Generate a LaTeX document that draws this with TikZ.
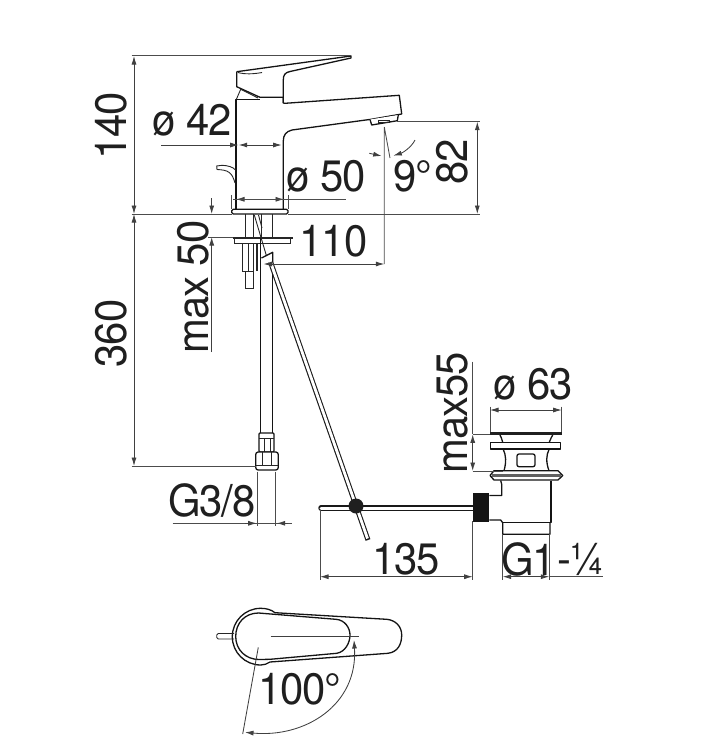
\documentclass[tikz,border=0pt]{standalone}
\usepackage{fontspec}
\setmainfont[FakeStretch=0.95,LetterSpace=-2.5]{TeX Gyre Heros}
\usepackage{tikz}
\usetikzlibrary{arrows.meta,calc}
\tikzset{
lbl/.style = {inner sep=0pt, text=black!88, font=\fontsize{44}{44}\selectfont},
tmp/.style = {coordinate},
body/.style = {draw=black!92, line width=1.3pt, line join=round},
thinbody/.style = {draw=black!85, line width=0.9pt},
dimline/.style = {draw=black!75, line width=0.85pt},
dimarrow/.style = {dimline, <->},
extline/.style = {draw=black!70, line width=0.85pt}
}

\begin{document}
\begin{tikzpicture}[x=1pt, y=-1pt, >={Latex[length=8.5pt,width=5pt]}]
  \useasboundingbox (0,0) rectangle (702,748);

  % dimension end points
  \node [tmp] at (134,56)      (topa)    {};
  \node [tmp] at (134,214)     (decka)   {};
  \node [tmp] at (134,466)     (hosea)   {};
  \node [tmp] at (477.3,121.7) (outa)    {};
  \node [tmp] at (477.3,214)   (outb)    {};
  \node [tmp] at (211.7,198)   (maxa)    {};
  \node [tmp] at (211.7,214)   (maxb)    {};
  \node [tmp] at (211.7,237)   (maxc)    {};
  \node [tmp] at (211.7,352)   (maxd)    {};
  \node [tmp] at (263.5,264)   (reacha)  {};
  \node [tmp] at (384.3,264)   (reachb)  {};
  \node [tmp] at (384.3,127)   (reachc)  {};
  \node [tmp] at (390,158)     (tilt)    {};
  \node [tmp] at (472.7,361.7) (wastea)  {};
  \node [tmp] at (472.7,434.3) (wasteb)  {};
  \node [tmp] at (472.7,471)   (wastec)  {};
  \node [tmp] at (320,576.7)   (rodl)    {};
  \node [tmp] at (472.7,576.7) (rodr)    {};
  \node [tmp] at (502.7,576.7) (tailx)   {};
  \node [tmp] at (549.3,576.7) (taily)   {};

  % spout and lever
  \draw [body] (236.7,71.7) -- (351,56) -- (351,58) -- (290,71.5)
     .. controls (285,72.5) and (283.3,75) .. (283.3,80) -- (283.3,103)
     -- (285,103.3) -- (399.3,95.3) -- (401.7,114) -- (371,119.3) -- (292,130)
     .. controls (286,131.5) and (283.3,135) .. (283.3,141) -- (283.3,209);
  \draw [body] (283.3,103) -- (283.3,97.3) -- (260,97.3) -- (236.7,86.7) -- (236.7,71.7);
  \draw [thinbody] (238,72.5) .. controls (245,74.5) and (254,74) .. (262,72.5);
  \draw [body] (236,209) -- (236,99.3) -- (260,99.3);
  \draw [thinbody] (236.5,99) -- (240.7,89.3);
  \draw [thinbody] (240.7,89.3) -- (258,98);
  \draw [body, fill=white] (370,119.5) -- (371.7,125) -- (397.3,120.7) -- (398.3,115);
  \draw [thinbody] (378,120.3) rectangle (389,122.5);

  % lift knob
  \draw [thinbody] (235,183) .. controls (232,172) and (228,170) .. (217,169.5)
     -- (216.7,166) -- (222,165.3) .. controls (228,165.5) and (233,167) .. (235.5,170);

  % flange and shank
  \draw [body, rounded corners=1.5pt] (231.7,209.3) rectangle (288,214);
  \draw [thinbody] (245,214) -- (245,237) (253.3,214) -- (253.3,237) (261.7,214) -- (261.7,237) (272.3,214) -- (272.3,237);
  \draw [thinbody] (254.3,215) -- (266.5,256);
  \draw [thinbody] (258.5,215) -- (262,228);
  \draw [line width=2pt, black!85] (233.3,238) -- (293.3,238);
  \draw [thinbody] (234,239) -- (234,243.7) -- (290.7,243.7) -- (290.7,239);
  \draw [thinbody] (242.3,243.7) -- (242.3,271.7) -- (253.3,271.7) -- (253.3,243.7);
  \draw [thinbody] (248.3,243.7) -- (248.3,271.7);
  \draw [line width=2pt, black!85] (256.5,243.7) -- (256.5,271);
  \draw [thinbody] (245,271.7) -- (245,288.3) -- (253.3,288.3) -- (253.3,271.7);

  % hose
  \draw [body] (260.5,238) -- (260.5,433) (272.5,252.3) -- (272.5,433);
  \draw [body, fill=white, rounded corners=1pt] (259,433) rectangle (274,452);
  \draw [thinbody] (264,438) -- (264,452) (270,438) -- (270,452) (259,438) -- (274,438);
  \draw [body, fill=white, rounded corners=2.5pt] (255.7,452) rectangle (278.3,470);
  \draw [thinbody] (262,452) -- (262,465) (271.5,452) -- (271.5,465) (255.7,465) -- (278.3,465);

  % pull rod
  \draw [body] (261.5,258) -- (272.7,252.3) -- (272.7,265);
  \draw [line width=5pt, black!90] (270.5,262) -- (368,540);
  \draw [line width=2.8pt, white] (269.5,259) -- (367.5,538.5);
  \draw [line width=5.5pt, black!90, line cap=round] (321,508) -- (473,508);
  \draw [line width=3pt, white, line cap=round] (321,508) -- (473,508);
  \node [circle, fill=black!88, minimum size=15pt, inner sep=0pt] at (356,506) (ball) {};
  \node [rectangle, fill=black!92, minimum width=16.6pt, minimum height=28.7pt, inner sep=0pt] at (481,507.3) (clamp) {};

  % waste
  \draw [line width=2.6pt, black!88] (490,433.7) -- (562.3,433.7);
  \draw [body] (500,435) .. controls (501,437) and (502,439) .. (502.7,442.3);
  \draw [body] (552.7,435) .. controls (551.5,437) and (550.5,439) .. (549.3,442.3);
  \draw [body] (490.7,442.3) rectangle (560.7,449);
  \draw [body] (503.3,449.5) .. controls (506,455) and (506.5,462) .. (504,470.7);
  \draw [body] (549,449.5) .. controls (546.3,455) and (545.8,462) .. (549,470.7);
  \draw [body, rounded corners=2pt] (517,454) rectangle (535,466.7);
  \draw [body] (494,470.7) -- (558,470.7) -- (562.7,475.5) -- (558,480)
     -- (494,480) -- (490,475.5) -- cycle;
  \draw [line width=3.4pt, black!62] (491.5,475.3) -- (561,475.3);
  \draw [body] (500.7,480.5) -- (501.7,484.3) -- (501.7,495.5) -- (489.3,495.5);
  \draw [body] (489.3,520) -- (500.7,520) -- (502.7,522.7) -- (502.7,534.3) -- (550,534.3) -- (550,522.7);
  \draw [body] (551,480.5) -- (551,522.7) -- (502.7,522.7);

  % plan view
  \draw [body] (275,612.7) .. controls (271,609.5) and (266,608.3) .. (260.7,608.3)
     .. controls (245,608.3) and (232.3,621) .. (232.3,636.7)
     .. controls (232.3,652.4) and (245,665) .. (260.7,665)
     .. controls (264,665) and (267,664) .. (270,662)
     -- (388,653.3) .. controls (398,652) and (401.7,644) .. (401.7,635)
     .. controls (401.7,626) and (395,620) .. (386.7,619.3) -- (275,612.7);
  \draw [body] (258.5,613) .. controls (245,613) and (235.7,623) .. (235.7,636.5)
     .. controls (235.7,650) and (246,659.5) .. (259,659.5) -- (270,659.3)
     -- (336.7,653.3) .. controls (345,652) and (350,643) .. (350,635)
     .. controls (350,628) and (345,620) .. (336,619.3) -- (258.5,613);
  \draw [thinbody, rounded corners=1.5pt] (234,633.5) -- (216.7,633.5) -- (216.7,639) -- (234,639);
  \draw [dimline] (270.7,636.7) -- (359.3,636.7);
  \draw [dimline] (258.3,647.3) -- (242.7,734);
  \draw [dimline, <->] (245,732.3) .. controls (305,738) and (358,705) .. (354,640);

  % dimension lines
  \draw [extline] (131.7,55.7) -- (351,55.7);
  \draw [extline] (131.7,214) -- (232,214) (288,214) -- (480,214);
  \draw [dimarrow] (topa) -- (decka);
  \draw [dimarrow] (decka) -- (hosea);
  \draw [extline] (131.7,466) -- (256,466);
  \draw [extline] (396.7,121.7) -- (480,121.7);
  \draw [dimarrow] (outa) -- (outb);
  \draw [dimline, <-] (238.7,145) -- (161,145);
  \draw [dimline, <->] (238.7,145) -- (281.7,145);
  \draw [extline] (231.7,195) -- (231.7,209) (288.3,195) -- (288.3,209);
  \draw [dimline, <->] (236,199.3) -- (284,199.3);
  \draw [extline] (233,199.3) -- (346,199.3);
  \draw [dimline, ->] (maxa) -- (maxb);
  \draw [dimline, ->] (maxd) -- (maxc);
  \draw [extline] (208,237) -- (233,237);
  \draw [dimarrow] (reacha) -- (reachb);
  \draw [extline] (reachc) -- (reachb) (reachc) -- (tilt);
  \draw [dimline, ->] (369.3,153.3) -- (381.7,156);
  \draw [dimline, ->] (415,140) .. controls (411,148) and (402,153) .. (393.3,155.7);
  \draw [extline] (172.7,523.3) -- (291.7,523.3);
  \draw [dimline, ->] (245,523.3) -- (256.7,523.3);
  \draw [dimline, ->] (288,523.3) -- (276.7,523.3);
  \draw [extline] (257.7,471.7) -- (257.7,526) (275.7,471.7) -- (275.7,526);
  \draw [extline] (320,510) -- (320,580) (472.7,521) -- (472.7,580);
  \draw [dimarrow] (rodl) -- (rodr);
  \draw [extline] (472.7,434.3) -- (490,434.3) (472.7,471) -- (503,471);
  \draw [extline] (wastea) -- (wasteb);
  \draw [dimarrow] (wasteb) -- (wastec);
  \draw [extline] (490,406.7) -- (490,432) (561.7,406.7) -- (561.7,432);
  \draw [dimline, <->] (490,410) -- (561.7,410);
  \draw [extline] (502.7,534.3) -- (502.7,580) (549.3,534.3) -- (549.3,580);
  \draw [dimarrow] (tailx) -- (taily);
  \draw [extline] (taily) -- (602.7,576.7);

  % labels
  \node [lbl, rotate=90] at (111,126)   (l140)  {140};
  \node [lbl, rotate=90] at (111,333.5) (l360)  {360};
  \node [lbl, rotate=90] at (193,287)   (lmaxa) {max 50};
  \node [lbl, rotate=90] at (452.5,413) (lmaxb) {max55};
  \node [lbl, rotate=90] at (452.5,161.5) (l82) {82};
  \node [lbl] at (192.5,120)  (lphia) {ø 42};
  \node [lbl] at (326.5,176)  (lphib) {ø 50};
  \node [lbl] at (333.5,241.5) (l110) {110};
  \node [lbl] at (413,176)    (ltilt) {9°};
  \node [lbl] at (533.5,384)  (lphic) {ø 63};
  \node [lbl] at (212,500)    (lgsm)  {G3/8};
  \node [lbl] at (406,559)    (l135)  {135};
  \node [lbl] at (528.5,559)  (lglg)  {G1};
  \node [lbl] at (581,559)    (lglh)  {-¼};
  \node [lbl] at (300,689)    (l100)  {100°};
\end{tikzpicture}
\end{document}
